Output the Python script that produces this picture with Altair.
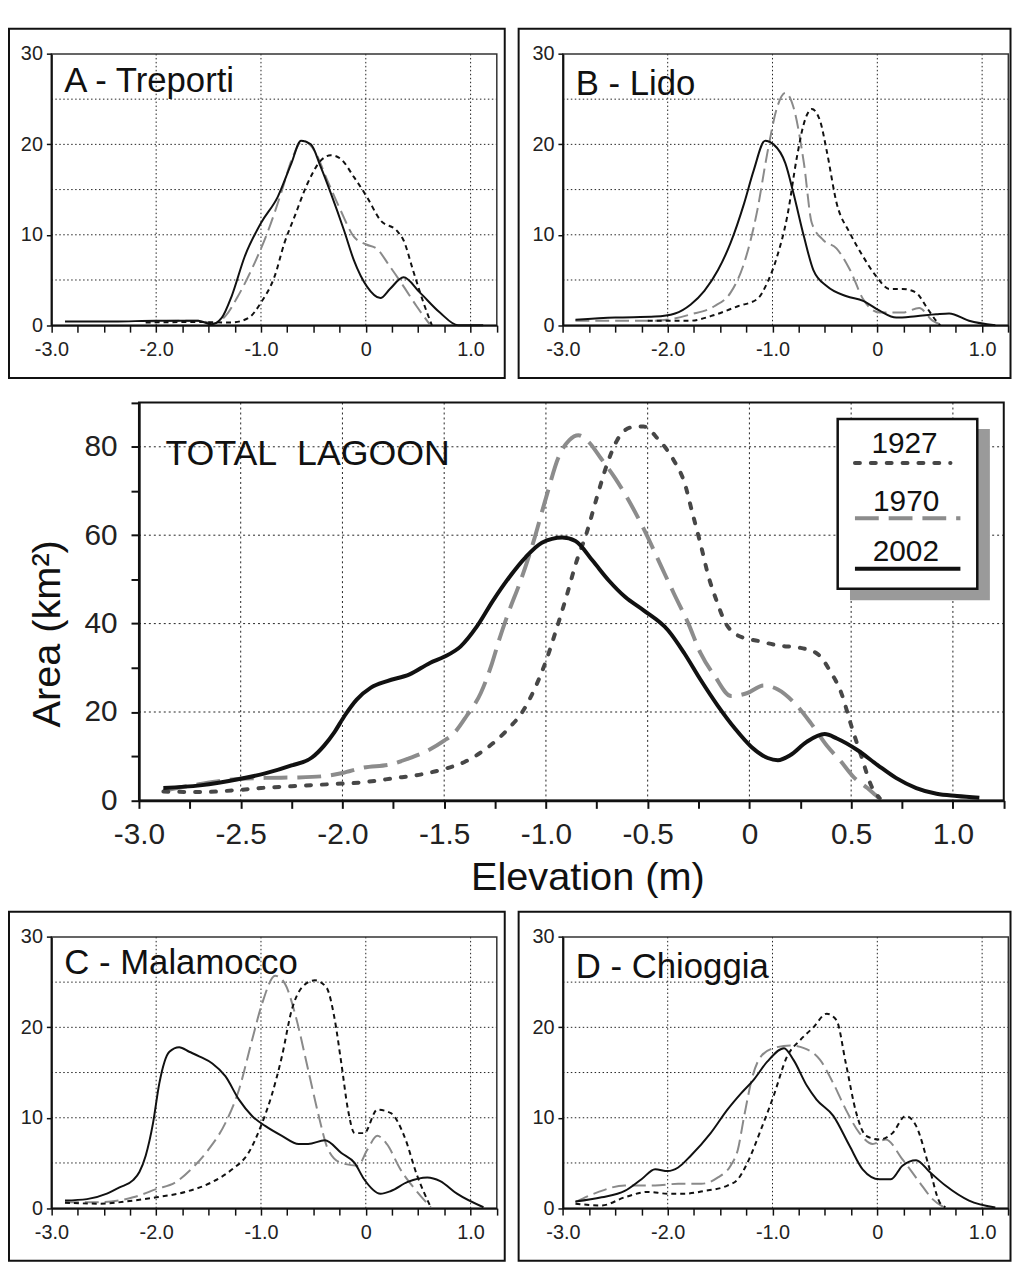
import altair as alt
import pandas as pd

FONT = "Liberation Sans"

# ---------------- data (elevation m, area km2) ----------------
TOT_1927 = [(-2.88, 2.0), (-2.7, 1.9), (-2.5, 2.4), (-2.4, 2.8), (-2.25, 3.2), (-2.05, 3.7), (-1.9, 4.1),
            (-1.75, 5.0), (-1.6, 6.0), (-1.5, 7.1), (-1.4, 8.7), (-1.3, 11.5), (-1.2, 15.5), (-1.1, 21.2),
            (-1.05, 25.8), (-1.0, 31.5), (-0.95, 38.5), (-0.9, 46), (-0.85, 54), (-0.8, 60.5), (-0.75, 68.5),
            (-0.7, 76), (-0.65, 81.5), (-0.58, 84.4), (-0.52, 84.6), (-0.45, 81.8), (-0.37, 76.8), (-0.32, 72),
            (-0.28, 65), (-0.24, 58), (-0.2, 50.5), (-0.16, 45), (-0.12, 40.4), (-0.06, 37.4), (0.05, 36),
            (0.15, 35), (0.24, 34.6), (0.33, 33.3), (0.4, 29), (0.45, 24.5), (0.5, 17), (0.55, 10), (0.6, 3.2),
            (0.64, 0.5)]
TOT_1970 = [(-2.88, 2.2), (-2.7, 3.7), (-2.5, 4.9), (-2.38, 5.1), (-2.22, 5.2), (-2.09, 5.5), (-2.0, 6.2),
            (-1.9, 7.4), (-1.76, 8.2), (-1.68, 9.4), (-1.58, 11.3), (-1.5, 13.5), (-1.45, 15.3), (-1.39, 19.1),
            (-1.32, 24.3), (-1.27, 30.3), (-1.23, 36.3), (-1.18, 43), (-1.13, 49), (-1.06, 58.7), (-1.0, 68.4),
            (-0.935, 78), (-0.885, 81.5), (-0.84, 82.6), (-0.79, 81.1), (-0.73, 77.4), (-0.66, 72.9),
            (-0.6, 68.4), (-0.52, 61.5), (-0.43, 52.6), (-0.37, 46.7), (-0.3, 40), (-0.24, 33.3), (-0.17, 28.1),
            (-0.09, 23.6), (-0.01, 24.3), (0.07, 26), (0.14, 25.1), (0.22, 22.1), (0.3, 17.6), (0.38, 12.4),
            (0.45, 8.8), (0.51, 5.4), (0.58, 2.8), (0.62, 1.2), (0.645, 0.2)]
TOT_2002 = [(-2.88, 2.8), (-2.7, 3.4), (-2.5, 4.9), (-2.38, 6.1), (-2.25, 7.9), (-2.15, 9.7), (-2.09, 12.4),
            (-2.04, 15.4), (-1.99, 19.1), (-1.93, 22.8), (-1.86, 25.5), (-1.78, 27), (-1.67, 28.5),
            (-1.57, 31.1), (-1.5, 32.5), (-1.42, 34.8), (-1.34, 39.3), (-1.26, 45.2), (-1.18, 50.5), (-1.1, 55),
            (-1.02, 58.3), (-0.92, 59.5), (-0.855, 58.7), (-0.77, 54.2), (-0.69, 49.7), (-0.61, 46), (-0.52, 43),
            (-0.4, 38.5), (-0.32, 33.3), (-0.24, 27.3), (-0.155, 21.4), (-0.07, 16.2), (0.01, 12.1), (0.09, 9.6),
            (0.14, 9.1), (0.2, 10.2), (0.28, 13.2), (0.37, 15), (0.43, 14), (0.53, 11.4), (0.63, 8), (0.72, 5.1),
            (0.82, 2.8), (0.92, 1.5), (1.02, 1.0), (1.13, 0.6)]

A_1927 = [(-2.1, 0.3), (-1.6, 0.35), (-1.28, 0.3), (-1.12, 0.8), (-1.0, 2.5), (-0.87, 5.4), (-0.776, 9.1),
          (-0.68, 12), (-0.555, 15.7), (-0.43, 18.2), (-0.334, 18.8), (-0.24, 18.4), (-0.114, 16.4),
          (0.01, 14.2), (0.14, 11.6), (0.3, 10.4), (0.36, 9.4), (0.45, 6.1), (0.55, 2.5), (0.63, 0)]
A_1970 = [(-2.1, 0.4), (-1.6, 0.5), (-1.45, 0.2), (-1.34, 1.0), (-1.22, 3.2), (-1.06, 6.9), (-0.93, 10.5),
          (-0.8, 14.9), (-0.71, 18.2), (-0.6, 20.4), (-0.49, 19.3), (-0.366, 16), (-0.24, 12.7), (-0.114, 9.8),
          (0.01, 8.9), (0.1, 8.5), (0.23, 6.5), (0.36, 4.3), (0.485, 2.1), (0.61, 0.1)]
A_2002 = [(-2.87, 0.4), (-2.4, 0.4), (-2.0, 0.5), (-1.6, 0.5), (-1.47, 0.1), (-1.375, 0.8), (-1.28, 3.2),
          (-1.155, 7.6), (-1.0, 11.3), (-0.84, 14.2), (-0.71, 17.9), (-0.618, 20.4), (-0.524, 20), (-0.43, 17.5),
          (-0.334, 14.6), (-0.208, 10.5), (-0.114, 7.2), (0.01, 4.3), (0.14, 3.0), (0.23, 4.0), (0.36, 5.3),
          (0.517, 3.6), (0.707, 1.4), (0.88, 0), (1.12, 0)]

B_1927 = [(-2.19, 0.5), (-1.78, 0.5), (-1.59, 1.0), (-1.33, 2.1), (-1.145, 2.9), (-1.05, 4.7), (-0.956, 7.6),
          (-0.86, 12), (-0.767, 18.6), (-0.703, 22.2), (-0.625, 23.9), (-0.546, 22.6), (-0.483, 19.3),
          (-0.388, 13.5), (-0.262, 10.2), (-0.136, 7.6), (-0.01, 5.4), (0.117, 4.0), (0.243, 4.0), (0.37, 3.6),
          (0.464, 2.1), (0.56, 0.5), (0.6, 0)]
B_1970 = [(-2.88, 0.5), (-2.12, 0.5), (-1.78, 1.2), (-1.555, 2.1), (-1.4, 3.6), (-1.27, 6.9), (-1.145, 12.7),
          (-1.05, 19), (-0.956, 24.1), (-0.877, 25.7), (-0.8, 24.1), (-0.7, 17.9), (-0.625, 11.3), (-0.514, 9.4),
          (-0.39, 8.5), (-0.26, 6.1), (-0.136, 2.9), (0.022, 1.4), (0.24, 1.4), (0.4, 1.9), (0.527, 0.5),
          (0.62, 0)]
B_2002 = [(-2.88, 0.6), (-2.5, 0.84), (-2.12, 0.95), (-1.93, 1.3), (-1.78, 2.3), (-1.65, 3.8), (-1.52, 6.1),
          (-1.4, 9.1), (-1.27, 13.5), (-1.18, 17.1), (-1.07, 20.4), (-0.99, 20), (-0.877, 17.9), (-0.8, 14.6),
          (-0.7, 9.8), (-0.61, 6.1), (-0.48, 4.3), (-0.293, 3.2), (-0.136, 2.7), (0.022, 1.6), (0.18, 0.84),
          (0.37, 1.0), (0.56, 1.2), (0.685, 1.3), (0.875, 0.5), (1.126, 0)]

C_1927 = [(-2.87, 0.6), (-2.54, 0.5), (-2.22, 0.84), (-2.0, 1.2), (-1.72, 1.8), (-1.464, 2.9), (-1.275, 4.3),
          (-1.12, 6.1), (-0.99, 9.4), (-0.9, 12.4), (-0.8, 16.8), (-0.707, 21.9), (-0.61, 24.4), (-0.486, 25.2),
          (-0.375, 24.4), (-0.3, 21.1), (-0.233, 16), (-0.17, 10.9), (-0.107, 8.3), (-0.016, 8.3), (0.11, 10.9),
          (0.24, 10.5), (0.366, 8.0), (0.49, 3.6), (0.62, 0.1)]
C_1970 = [(-2.87, 0.66), (-2.54, 0.66), (-2.22, 1.2), (-2.0, 2.1), (-1.81, 2.9), (-1.65, 4.5), (-1.5, 6.5),
          (-1.34, 9.4), (-1.21, 13.1), (-1.085, 18.6), (-0.99, 22.6), (-0.864, 25.7), (-0.77, 24.8),
          (-0.675, 21.5), (-0.55, 15.3), (-0.455, 10.5), (-0.36, 6.5), (-0.233, 5.0), (-0.076, 4.7), (0.016, 6.5),
          (0.11, 8.0), (0.2, 7.1), (0.33, 4.3), (0.49, 1.8), (0.62, 0.1)]
C_2002 = [(-2.87, 0.84), (-2.66, 1.0), (-2.47, 1.6), (-2.35, 2.3), (-2.22, 3.1), (-2.16, 4.0), (-2.1, 5.8),
          (-2.03, 9.4), (-1.97, 13.8), (-1.874, 17.3), (-1.78, 17.8), (-1.685, 17.3), (-1.59, 16.8),
          (-1.464, 16), (-1.34, 14.6), (-1.21, 12), (-1.085, 10.2), (-0.96, 9.1), (-0.8, 8), (-0.64, 7.1),
          (-0.55, 7.1), (-0.39, 7.5), (-0.233, 6.1), (-0.107, 5.0), (-0.016, 3.2), (0.14, 1.6), (0.24, 1.9),
          (0.4, 2.9), (0.587, 3.4), (0.71, 3.0), (0.87, 1.6), (1.123, 0.1)]

D_1927 = [(-2.88, 0.5), (-2.63, 0.3), (-2.41, 1.2), (-2.19, 1.8), (-2.0, 1.6), (-1.84, 1.6), (-1.65, 1.9),
          (-1.43, 2.5), (-1.33, 3.2), (-1.24, 5.0), (-1.11, 8.7), (-0.99, 12.4), (-0.86, 16.8), (-0.735, 18.6),
          (-0.61, 20), (-0.483, 21.5), (-0.39, 20.8), (-0.3, 16), (-0.2, 10.5), (-0.107, 8), (0.02, 7.6),
          (0.145, 8.3), (0.27, 10.2), (0.37, 9.1), (0.5, 4.3), (0.594, 0.66), (0.65, 0.1)]
D_1970 = [(-2.88, 0.66), (-2.66, 1.8), (-2.41, 2.5), (-2.12, 2.5), (-1.9, 2.7), (-1.68, 2.7), (-1.52, 3.4),
          (-1.4, 4.7), (-1.33, 6.5), (-1.27, 10.2), (-1.19, 14.6), (-1.11, 16.8), (-0.99, 17.7), (-0.83, 18),
          (-0.7, 17.7), (-0.546, 16.4), (-0.42, 13.8), (-0.3, 10.9), (-0.17, 8.3), (-0.044, 7.1), (0.08, 7.6),
          (0.24, 5.4), (0.4, 2.9), (0.527, 1.0), (0.65, 0)]
D_2002 = [(-2.88, 0.73), (-2.63, 1.2), (-2.41, 1.9), (-2.25, 3.2), (-2.12, 4.3), (-2.0, 4.1), (-1.9, 4.5),
          (-1.78, 5.8), (-1.59, 8.3), (-1.43, 10.9), (-1.3, 12.7), (-1.18, 14.2), (-1.05, 16.2), (-0.89, 17.7),
          (-0.8, 16.4), (-0.67, 13.5), (-0.58, 12), (-0.42, 10.2), (-0.265, 6.9), (-0.14, 4.3), (0.02, 3.2),
          (0.13, 3.2), (0.24, 4.7), (0.37, 5.3), (0.5, 4.0), (0.65, 2.5), (0.875, 0.84), (1.126, 0.07)]

YEARS = ["1927", "1970", "2002"]
PANEL_TITLES = ["A - Treporti", "B - Lido", "C - Malamocco", "D - Chioggia"]
CENTRAL_TITLE = "TOTAL\u00a0\u00a0LAGOON"
X_TITLE = "Elevation (m)"
Y_TITLE = "Area (km\u00b2)"

X_TICKS = [-3.0, -2.75, -2.5, -2.25, -2.0, -1.75, -1.5, -1.25, -1.0, -0.75, -0.5, -0.25,
           0.0, 0.25, 0.5, 0.75, 1.0, 1.25]
SMALL_Y_TICKS = [0, 10, 20, 30]
CENTRAL_Y_TICKS = [0, 10, 20, 30, 40, 50, 60, 70, 80, 90]
SMALL_GRID_X = [-2.0, -1.0, 0.0, 1.0]
SMALL_GRID_Y = [5, 10, 15, 20, 25]
CENTRAL_GRID_X = [-2.5, -2.0, -1.5, -1.0, -0.5, 0.0, 0.5, 1.0]
CENTRAL_GRID_Y = [20, 40, 60, 80]

DUMMY = pd.DataFrame({"d": [0]})

W, H = 1012, 1262   # whole drawing area (page minus 8px margin)


def frame(pairs):
    return pd.DataFrame({"elev": [p[0] for p in pairs], "area": [p[1] for p in pairs]})


FMT = "(datum.value == 0 ? '0' : replace(format(datum.value, '.1f'), '\u2212', '-'))"
LBL_EXPR_INT = "datum.value % 1 == 0 ? " + FMT + " : ''"
LBL_EXPR_HALF = "datum.value % 0.5 == 0 ? " + FMT + " : ''"

GRID_STYLE = dict(color="#222", strokeWidth=1, strokeDash=[1.5, 2.5])


def value_rect(x1, x2, y1, y2, **kw):
    return alt.Chart(DUMMY).mark_rect(**kw).encode(
        x=alt.value(x1), x2=alt.value(x2), y=alt.value(y1), y2=alt.value(y2))


def small_panel(title, s1927, s1970, s2002, left, top, box_x1, box_x2, box_y1, box_y2, label_dy):
    right, bottom = left + 449, top + 273.4
    x = alt.X("elev:Q", scale=alt.Scale(domain=[-3, 1.25], range=[left, right], nice=False, zero=False),
              axis=alt.Axis(orient="bottom", offset=bottom - H, zindex=1, values=X_TICKS,
                            labelExpr=LBL_EXPR_INT, title="", labelFont=FONT, labelFontSize=20,
                            labelColor="#222", labelPadding=8, labelFlush=False, labelOverlap=False,
                            tickSize=7, tickWidth=1.5, tickColor="#111", domainColor="#111", domainWidth=2,
                            grid=False))
    y = alt.Y("area:Q", scale=alt.Scale(domain=[0, 30], range=[bottom, top], nice=False, zero=False),
              axis=alt.Axis(orient="left", offset=-left, zindex=1, values=SMALL_Y_TICKS, title="",
                            labelFont=FONT, labelFontSize=20, labelColor="#222", labelPadding=4,
                            labelOverlap=False, tickSize=5, tickWidth=1.5, tickColor="#111",
                            domainColor="#111", domainWidth=2, grid=False))
    gx = alt.Chart(pd.DataFrame({"elev": SMALL_GRID_X})).mark_rule(**GRID_STYLE).encode(
        x=x, y=alt.value(top), y2=alt.value(bottom))
    gy = alt.Chart(pd.DataFrame({"area": SMALL_GRID_Y})).mark_rule(**GRID_STYLE).encode(
        y=y, x=alt.value(left), x2=alt.value(right))
    pframe = value_rect(left, right, top, bottom, filled=False, stroke="#333", strokeWidth=1.5)
    box = value_rect(box_x1, box_x2, box_y1, box_y2, filled=False, stroke="#111", strokeWidth=2)
    l70 = alt.Chart(frame(s1970)).mark_line(interpolate="monotone", color="#8a8a8a", strokeWidth=2,
                                            strokeDash=[14, 6]).encode(x=x, y=y)
    l27 = alt.Chart(frame(s1927)).mark_line(interpolate="monotone", color="#111", strokeWidth=2,
                                            strokeDash=[5, 4]).encode(x=x, y=y)
    l02 = alt.Chart(frame(s2002)).mark_line(interpolate="monotone", color="#111", strokeWidth=2).encode(x=x, y=y)
    txt = alt.Chart(DUMMY).mark_text(text=title, align="left", baseline="alphabetic", fontSize=35, font=FONT,
                                     color="#111").encode(x=alt.value(left + 13), y=alt.value(top + label_dy))
    return alt.layer(gx, gy, pframe, box, l70, l27, l02, txt)


# coordinates below are in the drawing area (page pixels minus the 8px margin)
pA = small_panel(PANEL_TITLES[0], A_1927, A_1970, A_2002, 43.7, 41.3, 1, 500.7, 16, 368, 38)
pB = small_panel(PANEL_TITLES[1], B_1927, B_1970, B_2002, 559.3, 41.3, 514.7, 1010.5, 16, 368, 41)
pC = small_panel(PANEL_TITLES[2], C_1927, C_1970, C_2002, 43.7, 931.3, 1, 500.7, 906, 1257.7, 37)
pD = small_panel(PANEL_TITLES[3], D_1927, D_1970, D_2002, 559.3, 931.3, 514.7, 1010.5, 906, 1257.7, 41)

# ---------------- central panel ----------------
CL, CT, CR, CB = 132, 392.7, 1003.7, 793.7
cx = alt.X("elev:Q", scale=alt.Scale(domain=[-3, 1.25], range=[CL, CR], nice=False, zero=False), axis=alt.Axis(
    orient="bottom", offset=CB - H, zindex=1, values=X_TICKS, labelExpr=LBL_EXPR_HALF, title=X_TITLE,
    titleFont=FONT, titleFontSize=40, titleFontWeight="normal", titleColor="#111", titleX=584, titleY=90,
    titleBaseline="alphabetic", titleAlign="center", labelFont=FONT, labelFontSize=30, labelColor="#222",
    labelPadding=11, labelFlush=False, labelOverlap=False, tickSize=8, tickWidth=2, tickColor="#111",
    domainColor="#111", domainWidth=2.5, grid=False))
cy = alt.Y("area:Q", scale=alt.Scale(domain=[0, 90], range=[CB, CT], nice=False, zero=False), axis=alt.Axis(
    orient="left", offset=-CL, zindex=1, values=CENTRAL_Y_TICKS,
    labelExpr="datum.value % 20 == 0 ? datum.label : ''", title=Y_TITLE, titleFont=FONT, titleFontSize=40,
    titleFontWeight="normal", titleColor="#111", titleX=-80, titleY=CT + 232.6, titleAngle=270,
    titleBaseline="alphabetic", titleAlign="center", labelFont=FONT, labelFontSize=30, labelColor="#222",
    labelPadding=14, labelOverlap=False, tickSize=8, tickWidth=2, tickColor="#111", domainColor="#111",
    domainWidth=2.5, grid=False))

CGRID = dict(color="#222", strokeWidth=1, strokeDash=[2, 3])
STYLE_1927 = dict(color="#474747", strokeWidth=4, strokeDash=[5, 11], strokeCap="round")
STYLE_1970 = dict(color="#8c8c8c", strokeWidth=4, strokeDash=[24, 10])
STYLE_2002 = dict(color="#111", strokeWidth=4)

cgx = alt.Chart(pd.DataFrame({"elev": CENTRAL_GRID_X})).mark_rule(**CGRID).encode(
    x=cx, y=alt.value(CT), y2=alt.value(CB))
cgy = alt.Chart(pd.DataFrame({"area": CENTRAL_GRID_Y})).mark_rule(**CGRID).encode(
    y=cy, x=alt.value(CL), x2=alt.value(CR))
cframe = value_rect(CL, CR, CT, CB, filled=False, stroke="#111", strokeWidth=2)
c70 = alt.Chart(frame(TOT_1970)).mark_line(interpolate="monotone", **STYLE_1970).encode(x=cx, y=cy)
c27 = alt.Chart(frame(TOT_1927)).mark_line(interpolate="monotone", **STYLE_1927).encode(x=cx, y=cy)
c02 = alt.Chart(frame(TOT_2002)).mark_line(interpolate="monotone", **STYLE_2002).encode(x=cx, y=cy)
ctitle = alt.Chart(DUMMY).mark_text(text=CENTRAL_TITLE, align="left", baseline="alphabetic", fontSize=36,
                                    font=FONT, color="#111").encode(x=alt.value(CL + 26.7), y=alt.value(CT + 62.6))

# legend (decoration), positioned relative to the central plot
shadow = value_rect(CL + 716.7, CL + 857.7, CT + 26.6, CT + 199.3, color="#9a9a9a")
lbox = value_rect(CL + 704.3, CL + 845, CT + 16.6, CT + 187.6, fill="white", stroke="#111", strokeWidth=2.5)
leg_layers = [shadow, lbox]
for yr, tx, ty, ly, lx2, st in [(YEARS[0], 771.7, 51, 61, 818, STYLE_1927),
                                 (YEARS[1], 773.3, 109.3, 116.6, 828, STYLE_1970),
                                 (YEARS[2], 773, 159.3, 167.6, 828, STYLE_2002)]:
    leg_layers.append(alt.Chart(DUMMY).mark_text(text=yr, align="center", baseline="alphabetic", fontSize=30,
                                                 font=FONT, color="#111").encode(
        x=alt.value(CL + tx), y=alt.value(CT + ty)))
    leg_layers.append(alt.Chart(DUMMY).mark_rule(**st).encode(
        x=alt.value(CL + 721.7), x2=alt.value(CL + lx2), y=alt.value(CT + ly)))

central = alt.layer(cgx, cgy, cframe, c70, c27, c02, ctitle, *leg_layers)

chart = alt.layer(pA, pB, central, pC, pD).resolve_scale(
    x="independent", y="independent").resolve_axis(x="independent", y="independent").properties(
    width=W, height=H, padding=0, background="white",
    view=alt.ViewBackground(stroke="transparent"))

chart.save("out.html", embed_options={"renderer": "svg", "actions": False})
